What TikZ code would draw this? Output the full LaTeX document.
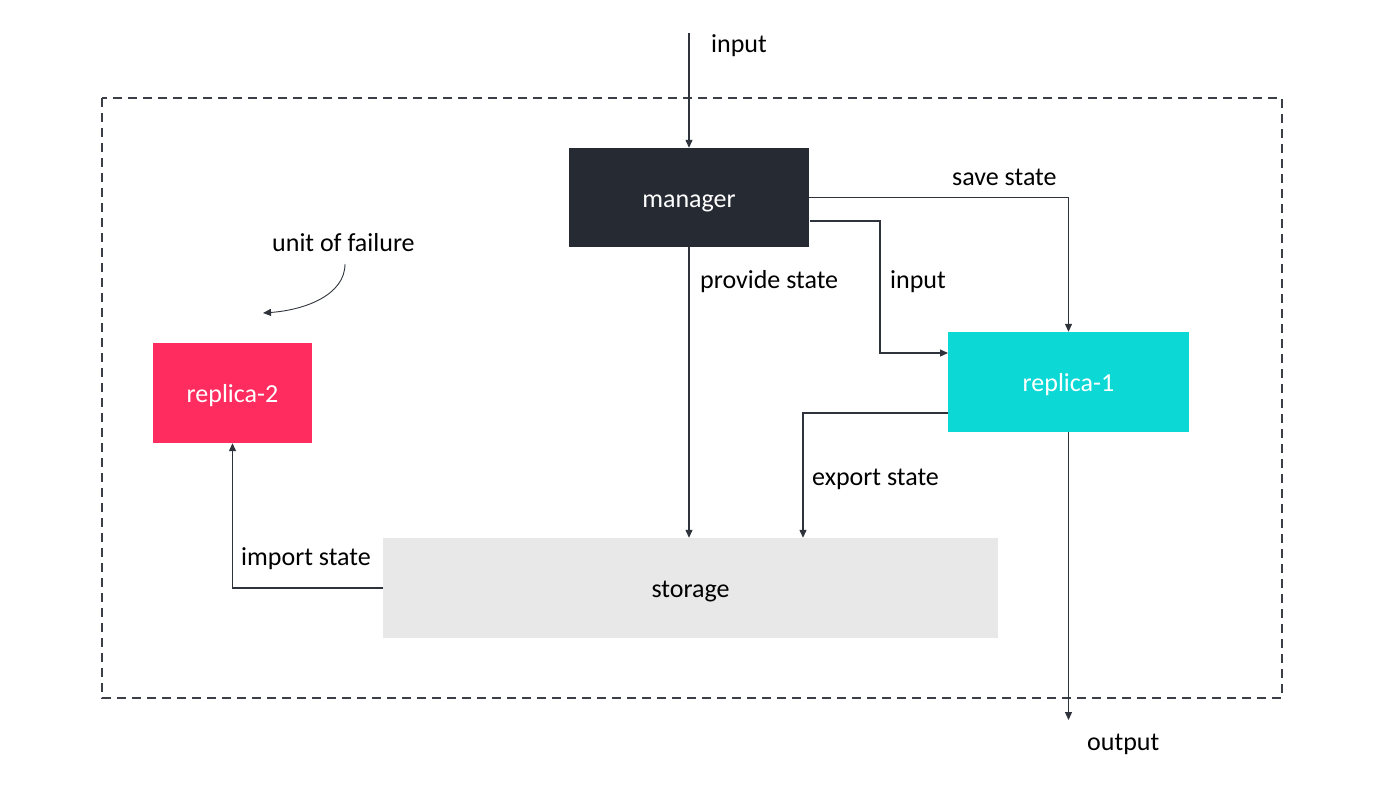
\documentclass[tikz,border=0pt]{standalone}
\usepackage{fontspec}
\setmainfont{Carlito}
\usetikzlibrary{arrows.meta,calc}
\definecolor{mgr}{HTML}{262A33}
\definecolor{rone}{HTML}{0CD9D6}
\definecolor{rtwo}{HTML}{FF2D5F}
\definecolor{stor}{HTML}{E8E8E8}
\definecolor{ln}{HTML}{2F333B}
\definecolor{dsh}{HTML}{3A3F47}
\begin{document}
\begin{tikzpicture}[x=1pt,y=-1pt,
  box/.style={draw=none,inner sep=0pt,text height=19pt,text depth=0pt,font=\fontsize{26}{30}\selectfont},
  lbl/.style={anchor=base west,inner sep=0pt,font=\fontsize{26}{30}\selectfont,text=black},
  arr/.style={draw=ln,line width=1.2pt,-{Triangle[length=8pt,width=7pt]}}]
\useasboundingbox[fill=white] (0,0) rectangle (1400,787);
\draw[dsh,line width=1.3pt,dash pattern=on 9pt off 6pt] (102,98) rectangle (1282,698);

\node[box,fill=mgr,text=white,minimum width=240pt,minimum height=99pt] (manager) at (689,197.5) {manager};
\node[box,fill=rone,text=white,minimum width=241pt,minimum height=100pt] (replica1) at (1068.5,382) {replica-1};
\node[box,fill=rtwo,text=white,minimum width=159pt,minimum height=100pt] (replica2) at (232.5,393) {replica-2};
\node[box,fill=stor,text=black,minimum width=615pt,minimum height=100pt] (storage) at (690.5,588) {storage};

\coordinate (intop) at (689,33);
\coordinate (mout) at (810,221);
\coordinate (bend) at (880,221);
\coordinate (r1in) at (948,353);
\coordinate (r1ex) at (948,413);
\coordinate (exdown) at (803,413);
\coordinate (outend) at (1068.5,720);
\coordinate (ufs) at (345,264);
\coordinate (ufe) at (263,313);

\draw[arr] (intop) -- (intop |- manager.north);
\draw[arr] (manager.east) -| (replica1.north);
\draw[arr] (mout) -- (bend) |- (r1in);
\draw[arr] (manager.south) -- (manager.south |- storage.north);
\draw[arr] (r1ex) -- (exdown) -- (exdown |- storage.north);
\draw[arr] (replica1.south) -- (outend);
\draw[arr] (storage.west) -| (replica2.south);
\draw[arr,line width=0.9pt] (ufs) .. controls (345,295) and (305,310) .. (ufe);

\node[lbl] (linput) at (711,52) {input};
\node[lbl] (lsave) at (952,185) {save state};
\node[lbl] (lprov) at (700,288) {provide state};
\node[lbl] (linput2) at (890,288) {input};
\node[lbl] (lexp) at (812,485) {export state};
\node[lbl] (lout) at (1087,750) {output};
\node[lbl] (limp) at (241,565) {import state};
\node[lbl] (lunit) at (272,251.5) {unit of failure};
\end{tikzpicture}
\end{document}
